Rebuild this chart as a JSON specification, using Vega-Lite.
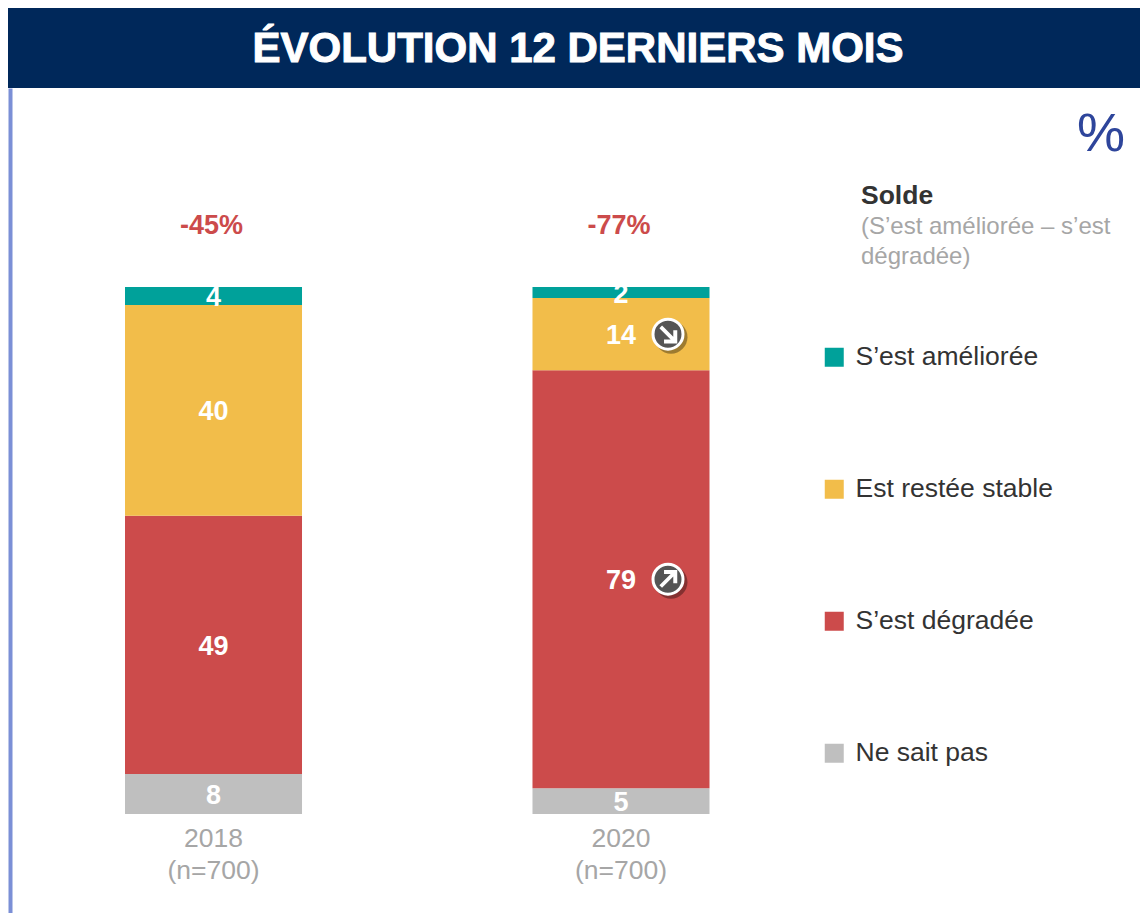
{
"$schema":"https://vega.github.io/schema/vega-lite/v6.json",
"background":"white",
"padding":{"left":8,"top":8,"right":0,"bottom":0},
"spacing":0,
"config":{"font":"Liberation Sans","view":{"stroke":null},"concat":{"spacing":0}},
"vconcat":[
{"width":1132,"height":80,"view":{"fill":"#00285A","stroke":null},
 "data":{"values":[{"titre":"ÉVOLUTION 12 DERNIERS MOIS"}]},
 "mark":{"type":"text","font":"Liberation Sans","fontWeight":"bold","fontSize":42,"color":"white","stroke":"white","strokeWidth":1,"baseline":"middle","dx":4,"dy":1},
 "encoding":{"text":{"field":"titre"}}
},
{"width":1132,"height":825,
 "data":{"values":[
  {"annee":"2018","statut":"Ne sait pas","rang":1,"part":7.6,"label":"8"},
  {"annee":"2018","statut":"S’est dégradée","rang":2,"part":49,"label":"49"},
  {"annee":"2018","statut":"Est restée stable","rang":3,"part":40,"label":"40"},
  {"annee":"2018","statut":"S’est améliorée","rang":4,"part":3.4,"label":"4"},
  {"annee":"2020","statut":"Ne sait pas","rang":1,"part":4.9,"label":"5"},
  {"annee":"2020","statut":"S’est dégradée","rang":2,"part":79.3,"label":"79","tendance":"hausse"},
  {"annee":"2020","statut":"Est restée stable","rang":3,"part":13.7,"label":"14","tendance":"baisse"},
  {"annee":"2020","statut":"S’est améliorée","rang":4,"part":2.1,"label":"2"}
 ]},
 "encoding":{
  "x":{"field":"annee","type":"nominal","title":null,
   "scale":{"range":[117,701.5],"paddingInner":0.5656,"paddingOuter":0},
   "axis":{"orient":"bottom","offset":-99,"ticks":false,"domain":false,"labelAngle":0,"labelFontSize":26.5,"labelColor":"#A6A6A6","labelLineHeight":32,"labelPadding":11,"labelExpr":"[datum.label,'(n=700)']","labelBaseline":"top"}}
 },
 "layer":[
  {"mark":{"type":"bar"},
   "encoding":{
    "y":{"field":"part","type":"quantitative","stack":"zero","title":null,
     "scale":{"domain":[-18.79,137.76],"nice":false,"zero":false},
     "axis":{"domain":true,"domainColor":"#7B8FD6","domainWidth":4,"offset":-2,"ticks":false,"labels":false,"grid":false}},
    "color":{"field":"statut","type":"nominal",
     "scale":{"domain":["S’est améliorée","Est restée stable","S’est dégradée","Ne sait pas"],"range":["#00A19A","#F2BD4A","#CC4B4B","#BFBFBF"]},
     "legend":{"title":null,"orient":"none","legendX":813,"legendY":336,"symbolType":"square","symbolSize":361,"symbolStrokeWidth":0,"labelFontSize":26.5,"labelColor":"#333333","rowPadding":105,"labelOffset":8,"labelLimit":400,"labelFont":"Liberation Sans","symbolOpacity":1}},
    "order":{"field":"rang","type":"quantitative"}
   }},
  {"mark":{"type":"text","fontWeight":"bold","fontSize":27,"color":"white","baseline":"middle","dy":2},
   "encoding":{
    "y":{"field":"part","type":"quantitative","stack":"zero","bandPosition":0.5},
    "detail":{"field":"statut"},
    "order":{"field":"rang","type":"quantitative"},
    "text":{"field":"label"}
   }},
  {"mark":{"type":"point","filled":true,"shape":"circle","xOffset":50,"yOffset":3,"color":"#000000","opacity":0.35},
   "encoding":{
    "y":{"field":"part","type":"quantitative","stack":"zero","bandPosition":0.5},
    "detail":{"field":"statut"},
    "order":{"field":"rang","type":"quantitative"},
    "size":{"condition":{"test":"datum.tendance","value":1089},"value":0}
   }},
  {"mark":{"type":"point","filled":true,"shape":"circle","xOffset":47,"color":"#555555","stroke":"white","strokeWidth":3,"opacity":1},
   "encoding":{
    "y":{"field":"part","type":"quantitative","stack":"zero","bandPosition":0.5},
    "detail":{"field":"statut"},
    "order":{"field":"rang","type":"quantitative"},
    "size":{"condition":{"test":"datum.tendance","value":900},"value":0},
    "strokeOpacity":{"condition":{"test":"datum.tendance","value":1},"value":0}
   }},
  {"mark":{"type":"point","filled":true,"xOffset":47,"color":"white","opacity":1},
   "encoding":{
    "y":{"field":"part","type":"quantitative","stack":"zero","bandPosition":0.5},
    "detail":{"field":"statut"},
    "order":{"field":"rang","type":"quantitative"},
    "shape":{"field":"tendance","type":"nominal","legend":null,
     "scale":{"domain":["baisse","hausse"],"range":[
      "M-.65 -.45 L-.45 -.65 L.4 .2 L.4 -.3 L.7 -.3 L.7 .7 L-.3 .7 L-.3 .4 L.2 .4 Z",
      "M-.65 .45 L-.45 .65 L.4 -.2 L.4 .3 L.7 .3 L.7 -.7 L-.3 -.7 L-.3 -.4 L.2 -.4 Z"]}},
    "size":{"condition":{"test":"datum.tendance","value":700},"value":0}
   }},
  {"data":{"values":[{"annee":"2018","solde":"-45%"},{"annee":"2020","solde":"-77%"}]},
   "mark":{"type":"text","fontWeight":"bold","fontSize":27,"color":"#CC4B4B","baseline":"middle","dx":-2,"dy":1},
   "encoding":{"y":{"datum":111.8},"text":{"field":"solde"}}},
  {"data":{"values":[{"t":"%"}]},
   "mark":{"type":"text","fontSize":54,"color":"#2E459B","align":"center","baseline":"middle","font":"Liberation Sans"},
   "encoding":{"x":{"value":1093},"y":{"value":47},"text":{"field":"t"}}},
  {"data":{"values":[{"t":"Solde"}]},
   "mark":{"type":"text","fontSize":26.5,"fontWeight":"bold","color":"#333333","align":"left","baseline":"middle"},
   "encoding":{"x":{"value":853},"y":{"value":108},"text":{"field":"t"}}},
  {"data":{"values":[{"t":"(S’est améliorée – s’est\ndégradée)"}]},
   "mark":{"type":"text","fontSize":24,"color":"#A6A6A6","align":"left","baseline":"top","lineBreak":"\n","lineHeight":30},
   "encoding":{"x":{"value":853},"y":{"value":127},"text":{"field":"t"}}}
 ],
 "resolve":{"scale":{"shape":"independent"}}
}
]
}
